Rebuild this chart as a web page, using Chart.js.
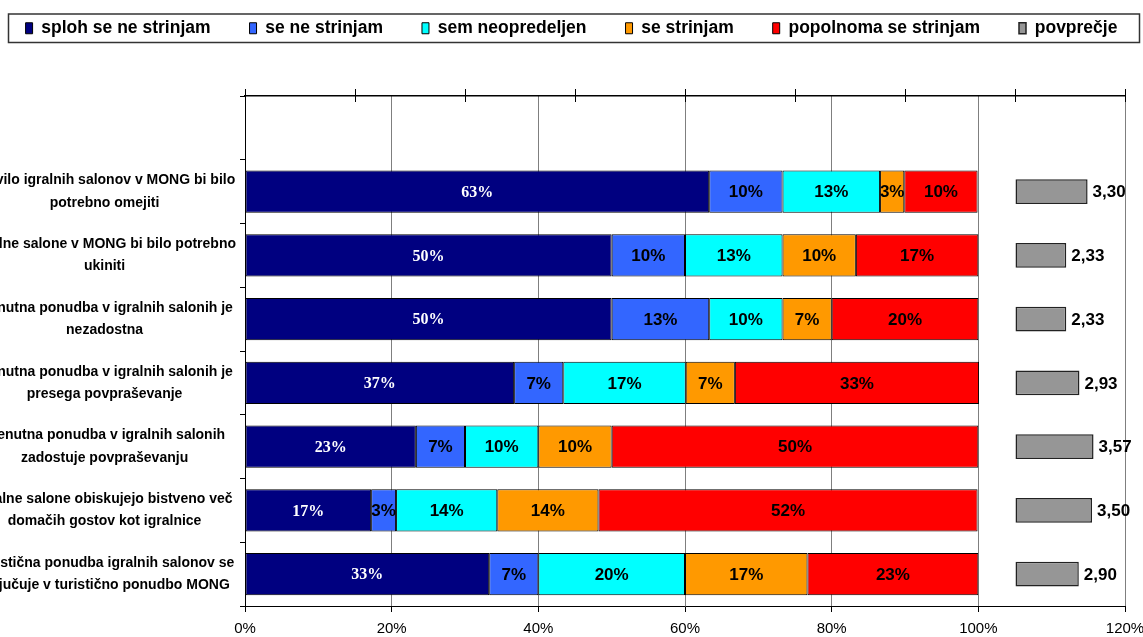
<!DOCTYPE html>
<html>
<head>
<meta charset="utf-8">
<script src="https://cdn.jsdelivr.net/npm/chart.js@4.4.1/dist/chart.umd.min.js"></script>
<style>
  html, body { margin: 0; padding: 0; background: #fff; }
  #wrap { width: 1143px; height: 637px; position: relative; }
</style>
</head>
<body>
<div id="wrap"><canvas id="chart"></canvas></div>
<script>
const categories = [
  ["Število igralnih salonov v MONG bi bilo", "potrebno omejiti"],
  ["Igralne salone v MONG bi bilo potrebno", "ukiniti"],
  ["Trenutna ponudba v igralnih salonih je", "nezadostna"],
  ["Trenutna ponudba v igralnih salonih je", "presega povpraševanje"],
  ["Trenutna ponudba v igralnih salonih", "zadostuje povpraševanju"],
  ["Igralne salone obiskujejo bistveno več", "domačih gostov kot igralnice"],
  ["Turistična ponudba igralnih salonov se", "vključuje v turistično ponudbo MONG"],
];

const seriesNames = ["sploh se ne strinjam", "se ne strinjam", "sem neopredeljen", "se strinjam", "popolnoma se strinjam"];
const avgName = "povprečje";

// percentages per statement
const splohNe = [63.3, 50.0, 50.0, 36.7, 23.3, 17.2, 33.3];
const seNe = [10.0, 10.0, 13.3, 6.7, 6.7, 3.4, 6.7];
const neopredeljen = [13.3, 13.3, 10.0, 16.7, 10.0, 13.8, 20.0];
const seStrinjam = [3.3, 10.0, 6.7, 6.7, 10.0, 13.8, 16.7];
const popolnoma = [10.0, 16.7, 20.0, 33.3, 50.0, 51.7, 23.3];
const povprecje = [3.30, 2.33, 2.33, 2.93, 3.57, 3.50, 2.90];

const xTicks = [0, 20, 40, 60, 80, 100, 120];

const colors = ["#000080", "#3366FF", "#00FFFF", "#FF9900", "#FF0000"];
const FONT = "'Liberation Sans', Arial, sans-serif";

Chart.defaults.font.family = FONT;
Chart.defaults.color = "#000";

// the top row of the chart is left empty
const labels = [""].concat(categories);
const pad = (arr) => [null].concat(arr);

const barLabels = {
  id: "barLabels",
  afterDatasetsDraw(chart) {
    const ctx = chart.ctx;
    ctx.save();
    ctx.textBaseline = "middle";
    chart.data.datasets.forEach((ds, i) => {
      const meta = chart.getDatasetMeta(i);
      meta.data.forEach((bar, j) => {
        const v = ds.data[j];
        if (v == null) return;
        if (ds.xAxisID === "x2") {
          ctx.font = "bold 17px " + FONT;
          ctx.fillStyle = "#000";
          ctx.textAlign = "left";
          ctx.fillText(v.toFixed(2).replace(".", ","), bar.x + 5, bar.y + 1);
        } else {
          const c = bar.getCenterPoint();
          ctx.textAlign = "center";
          if (i === 0) {
            ctx.font = "bold 16px 'Liberation Serif', 'Times New Roman', serif";
            ctx.fillStyle = "#fff";
          } else {
            ctx.font = "bold 17px " + FONT;
            ctx.fillStyle = "#000";
          }
          ctx.fillText(Math.round(v) + "%", c.x, c.y + 1);
        }
      });
    });
    ctx.restore();
  },
};

// frame round the one-line legend, and top-axis ticks that cross the axis line
const decorations = {
  id: "decorations",
  afterDraw(chart) {
    const ctx = chart.ctx;
    ctx.save();
    const boxes = chart.legend.legendHitBoxes;
    if (boxes && boxes.length) {
      ctx.strokeStyle = "#333";
      ctx.lineWidth = 1.5;
      ctx.strokeRect(8.5, boxes[0].top - 5.5, chart.width - 12, boxes[0].height + 11);
    }
    const top = chart.scales.x2;
    ctx.strokeStyle = "#000";
    ctx.lineWidth = 1;
    top.ticks.forEach((t) => {
      const px = Math.round(top.getPixelForValue(t.value)) + 0.5;
      ctx.beginPath();
      ctx.moveTo(px, chart.chartArea.top);
      ctx.lineTo(px, chart.chartArea.top + 6);
      ctx.stroke();
    });
    ctx.restore();
  },
};

const datasets = seriesNames.map((name, i) => ({
  label: name,
  data: pad([splohNe, seNe, neopredeljen, seStrinjam, popolnoma][i]),
  backgroundColor: colors[i],
  borderColor: "#000",
  borderWidth: 1,
  borderSkipped: false,
  xAxisID: "x",
  barPercentage: 0.66,
  categoryPercentage: 1,
}));

datasets.push({
  label: avgName,
  data: pad(povprecje),
  backgroundColor: "#969696",
  borderColor: "#222",
  borderWidth: 1.5,
  borderSkipped: false,
  xAxisID: "x2",
  grouped: false,
  barPercentage: 0.39,
  categoryPercentage: 1,
});

const ctx = document.getElementById("chart").getContext("2d");
const chart = new Chart(ctx, {
  type: "bar",
  data: { labels: labels, datasets: datasets },
  plugins: [barLabels, decorations],
  options: {
    indexAxis: "y",
    responsive: true,
    maintainAspectRatio: false,
    animation: false,
    // negative sides give the legend room for wide gaps on one line
    layout: { padding: { top: -19.5, left: -20, right: -20, bottom: 0 } },
    plugins: {
      tooltip: { enabled: false },
      legend: {
        position: "top",
        labels: {
          boxWidth: 7,
          boxHeight: 11,
          padding: 39,
          color: "#000",
          font: { size: 17.5, weight: "bold" },
        },
      },
    },
    scales: {
      x: {
        stacked: true,
        min: 0,
        max: 120,
        afterBuildTicks: (scale) => {
          scale.ticks = xTicks.map((v) => ({ value: v }));
        },
        afterFit: (scale) => {
          scale.height = 31;
          scale.paddingLeft = -30;
          scale.paddingRight = 18;
        },
        ticks: {
          callback: (v) => v + "%",
          font: { size: 15 },
          padding: 8,
          color: "#000",
        },
        grid: { color: "#7f7f7f", tickColor: "#000", tickLength: 6 },
        border: { color: "#000", width: 1 },
      },
      x2: {
        position: "top",
        min: -35,
        max: 5,
        ticks: { stepSize: 5, display: false },
        grid: { drawOnChartArea: false, tickColor: "#000", tickLength: 7 },
        border: { color: "#000", width: 1.5 },
        afterFit: (scale) => { scale.height = 49; },
      },
      y: {
        stacked: true,
        afterFit: (scale) => { scale.width = 265; },
        ticks: {
          autoSkip: false,
          crossAlign: "center",
          padding: 4,
          color: "#000",
          font: { size: 14, weight: "bold", lineHeight: 1.6 },
        },
        grid: { drawOnChartArea: false, tickColor: "#000", tickLength: 5 },
        border: { color: "#000", width: 1 },
      },
    },
  },
});
</script>
</body>
</html>
